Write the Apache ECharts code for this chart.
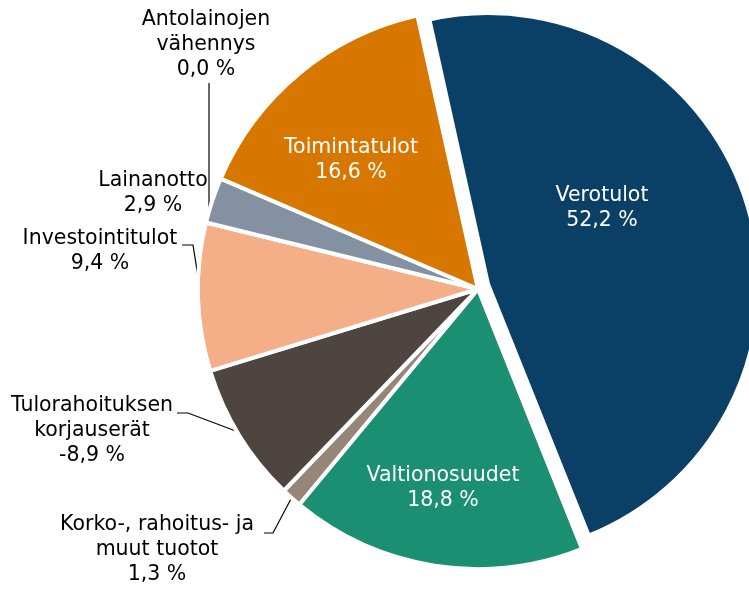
<!DOCTYPE html>
<html>
<head>
<meta charset="utf-8">
<script src="https://cdn.jsdelivr.net/npm/echarts@6/dist/echarts.min.js"></script>
<style>
  html, body { margin: 0; padding: 0; background: #fff; }
  #chart { width: 749px; height: 590px; }
</style>
</head>
<body>
<div id="chart"></div>
<script>
// data, clockwise from the top
const categories = [
  'Verotulot',
  'Valtionosuudet',
  'Korko-, rahoitus- ja\nmuut tuotot',
  'Tulorahoituksen\nkorjauserät',
  'Investointitulot',
  'Antolainojen\nvähennys',
  'Lainanotto',
  'Toimintatulot'
]
const shares = [52.2, 18.8, 1.3, -8.9, 9.4, 0.0, 2.9, 16.6]
const colors = ['#0a4066', '#1a8f72', '#958678', '#4e4440', '#f4ae88', '#8391a2', '#8391a2', '#d77700']
const explodedIndex = 0

// label placement: [x, y, inside, leader line points]
const labelPlace = [
  [602, 208, true],
  [443, 488, true],
  [157, 550, false, [[292, 497], [273, 533], [264, 533]]],
  [92, 431, false, [[241, 433], [188, 413], [177, 413]]],
  [100, 251, false, [[201, 296], [193, 245], [182, 245]]],
  [206, 45, false, [[209, 221], [209, 150], [209, 83]]],
  [153, 193, false, null],
  [351, 160, true]
]

const fmt = v => v.toFixed(1).replace('.', ',') + ' %'

const chart = echarts.init(document.getElementById('chart'))

function buildData(visibleFn) {
  return categories.map((name, i) => {
    const vis = visibleFn(i)
    const place = labelPlace[i]
    return {
      name,
      value: Math.abs(shares[i]),
      share: shares[i],
      itemStyle: vis
        ? { color: colors[i], borderColor: '#fff', borderWidth: 4 }
        : { color: 'rgba(0,0,0,0)', borderWidth: 0 },
      label: {
        show: vis,
        color: place[2] ? '#fff' : '#000'
      },
      labelLine: { show: vis && !place[2] && !!place[3] }
    }
  })
}

function layoutFn(params) {
  const place = labelPlace[params.dataIndex]
  const out = { x: place[0], y: place[1], align: 'center', verticalAlign: 'middle' }
  if (place[3]) out.labelLinePoints = place[3]
  return out
}

const common = {
  type: 'pie',
  startAngle: 102.5,
  clockwise: true,
  avoidLabelOverlap: false,
  silent: true,
  animation: false,
  emphasis: { disabled: true },
  label: {
    formatter: p => p.name + '\n' + fmt(p.data.share),
    fontFamily: 'DejaVu Sans',
    fontSize: 20.5,
    lineHeight: 25
  },
  labelLine: {
    length: 10,
    length2: 10,
    minTurnAngle: 0,
    maxSurfaceAngle: 180,
    lineStyle: { color: '#000', width: 1.2 }
  },
  labelLayout: layoutFn
}

chart.setOption({
  backgroundColor: '#fff',
  animation: false,
  series: [
    Object.assign({}, common, {
      center: [478, 289],
      radius: 280,
      data: buildData(i => i !== explodedIndex)
    }),
    Object.assign({}, common, {
      center: [488, 284],
      radius: 271,
      data: buildData(i => i === explodedIndex)
    })
  ]
})
</script>
</body>
</html>
